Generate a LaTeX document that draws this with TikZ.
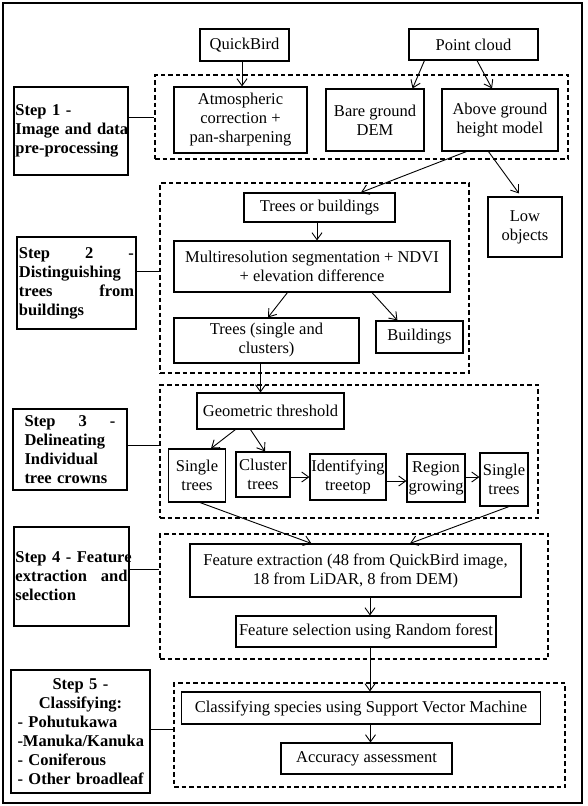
\documentclass[tikz,border=0pt]{standalone}
\usepackage{fontspec}
\setmainfont{Liberation Serif}
\usetikzlibrary{arrows.meta}

\begin{document}
\begin{tikzpicture}[x=1pt, y=-1pt,
    every node/.style={font=\fontsize{16.5}{19}\selectfont},
    box/.style={draw, line width=1.1pt, align=center, inner sep=1pt},
    stepbox/.style={draw, line width=1.1pt, align=left, font=\fontsize{16.5}{19}\selectfont\bfseries},
    dbox/.style={draw, dash pattern=on 4.5pt off 3pt, line width=1.2pt, inner sep=0pt},
    wh/.style 2 args={minimum width=#1pt, minimum height=#2pt},
    arr/.style={line width=0.9pt, -{Straight Barb[length=7pt, width=10pt]}},
    link/.style={line width=0.9pt}]
    \useasboundingbox (0,0) rectangle (588,806);

    % --- ВНЕШНЯЯ РАМКА ---
    \draw[line width=1.6pt] (3,3) rectangle (582,803);

    % --- ШАГ 1 ---
    \node[dbox, wh={413}{84}] (d1) at (361.5,117) {};
    \node[box, wh={89}{32}] (qb) at (244.5,45) {QuickBird};
    \node[box, wh={129}{31}] (pc) at (473.5,44.5) {Point cloud};
    \node[box, wh={133}{66}] (atm) at (240.5,120) {Atmospheric\\correction +\\pan-sharpening};
    \node[box, wh={98}{62}] (dem) at (375,120) {Bare ground\\DEM};
    \node[box, wh={116}{62}] (agh) at (500,120) {Above ground\\height model};
    \node[stepbox, wh={114}{88}, text width=111pt, inner xsep=1.5pt] (s1) at (71,131)
        {\mbox{Step 1 -}\\\mbox{Image and data}\\\mbox{pre-processing}};

    % --- ШАГ 2 ---
    \node[dbox, wh={309}{190}] (d2) at (314.5,278) {};
    \node[box, wh={151}{29}] (tob) at (319.5,207.5) {Trees or buildings};
    \node[box, wh={74}{60}] (low) at (525,227) {Low\\objects};
    \node[box, wh={276}{51}] (mrs) at (312,266.5) {Multiresolution segmentation + NDVI\\+ elevation difference};
    \node[box, wh={185}{45}] (trs) at (266.5,340.5) {Trees (single and\\clusters)};
    \node[box, wh={87}{32}] (bld) at (419.5,337) {Buildings};
    \node[stepbox, wh={119}{92}, text width=115pt, inner xsep=2pt] (s2) at (76.5,283)
        {Step\hfill 2\hfill -\\\mbox{Distinguishing}\\trees\hfill from\\\mbox{buildings}};

    % --- ШАГ 3 ---
    \node[dbox, wh={378}{133}] (d3) at (349,451.5) {};
    \node[box, wh={147}{36}] (geo) at (270.5,411) {Geometric threshold};
    \node[box, wh={57}{53}] (st1) at (197,475.5) {Single\\trees};
    \node[box, wh={54}{45}] (clt) at (263,474.5) {Cluster\\trees};
    \node[box, wh={76}{46}] (itt) at (348,477) {Identifying\\treetop};
    \node[box, wh={58}{48}] (rgg) at (436,478) {Region\\growing};
    \node[box, wh={48}{53}] (st2) at (504,479.5) {Single\\trees};
    \node[stepbox, wh={114}{81}, text width=91pt, inner xsep=11.5pt] (s3) at (70,449.5)
        {Step\hfill 3\hfill -\\\mbox{Delineating}\\\mbox{Individual}\\\mbox{tree crowns}};

    % --- ШАГ 4 ---
    \node[dbox, wh={388}{125}] (d4) at (354,596.5) {};
    \node[box, wh={331}{53}] (fex) at (355.5,570.5) {Feature extraction (48 from QuickBird image,\\18 from LiDAR, 8 from DEM)};
    \node[box, wh={260}{31}] (fsl) at (366,631.5) {Feature selection using Random forest};
    \node[stepbox, wh={115}{99}, text width=112pt, inner xsep=1.5pt] (s4) at (71.5,576.5)
        {\mbox{Step 4 - Feature}\\extraction\hfill and\\\mbox{selection}};

    % --- ШАГ 5 ---
    \node[dbox, wh={391}{104}] (d5) at (369.5,735) {};
    \node[box, wh={359}{32}] (csv) at (361,708) {Classifying species using Support Vector Machine};
    \node[box, wh={171}{31}] (acc) at (366.5,758.5) {Accuracy assessment};
    \node[stepbox, wh={139}{123}, text width=126pt, inner xsep=6.5pt] (s5) at (80.5,731.5)
        {\hfill\mbox{Step 5 -}\hfill\null\\\hfill\mbox{Classifying:}\hfill\null\\\mbox{- Pohutukawa}\\\mbox{-Manuka/Kanuka}\\\mbox{- Coniferous}\\\mbox{- Other broadleaf}};

    % --- СВЯЗИ ШАГОВ С ПУНКТИРНЫМИ БЛОКАМИ ---
    \draw[link] (d1.west) -- (d1.west -| s1.east);
    \draw[link] ([yshift=12pt]s2.east) -- ([yshift=12pt]s2.east -| d2.west);
    \draw[link] ([yshift=4.5pt]s3.east) -- ([yshift=4.5pt]s3.east -| d3.west);
    \draw[link] ([yshift=7.5pt]s4.east) -- ([yshift=7.5pt]s4.east -| d4.west);
    \draw[link] ([yshift=2.5pt]s5.east) -- ([yshift=2.5pt]s5.east -| d5.west);

    % --- СТРЕЛКИ ---
    \draw[arr] ([xshift=-2.5pt]qb.south) -- ([xshift=-2.5pt]qb.south |- atm.north);
    \draw[arr] ([xshift=16pt]pc.south west) -- ([xshift=-12pt]dem.north east);
    \draw[arr] ([xshift=3.5pt]pc.south) -- ([xshift=-8pt]agh.north);
    \draw[arr] ([xshift=25pt]agh.south west) -- ([xshift=41.5pt]tob.north);
    \draw[arr] ([xshift=47pt]agh.south west) -- ([xshift=-6pt,yshift=3pt]low.north);
    \draw[arr] ([xshift=-2.5pt]tob.south) -- ([xshift=-2.5pt]tob.south |- mrs.north);
    \draw[arr] ([xshift=114pt]mrs.south west) -- ([xshift=1.5pt]trs.north);
    \draw[arr] ([xshift=60pt]mrs.south) -- ([xshift=22pt]bld.north west);
    \draw[arr] ([xshift=-6pt]trs.south) -- ([xshift=-6pt]trs.south |- geo.north);
    % развилка после порога
    \draw[arr] ([xshift=39pt]geo.south west) -- ([xshift=14pt]st1.north);
    \draw[arr] ([xshift=54pt]geo.south west) -- ([xshift=2pt]clt.north);
    \draw[arr] ([yshift=-2.5pt]clt.east) -- ([yshift=-2.5pt]clt.east -| itt.west);
    \draw[arr] ([yshift=-4pt]itt.east) -- ([yshift=-4pt]itt.east -| rgg.west);
    \draw[arr] ([yshift=1pt]rgg.east) -- ([yshift=1pt]rgg.east -| st2.west);
    \draw[arr] ([xshift=3pt]st1.south) -- ([xshift=122pt]fex.north west);
    \draw[arr] ([xshift=5pt]st2.south) -- ([xshift=54.5pt]fex.north);
    \draw[arr] ([xshift=4pt]fsl.north |- fex.south) -- ([xshift=4pt]fsl.north);
    \draw[arr] ([xshift=4pt]fsl.south) -- ([xshift=4pt]fsl.south |- csv.north);
    \draw[arr] ([xshift=4pt]acc.north |- csv.south) -- ([xshift=4pt]acc.north);

\end{tikzpicture}
\end{document}
